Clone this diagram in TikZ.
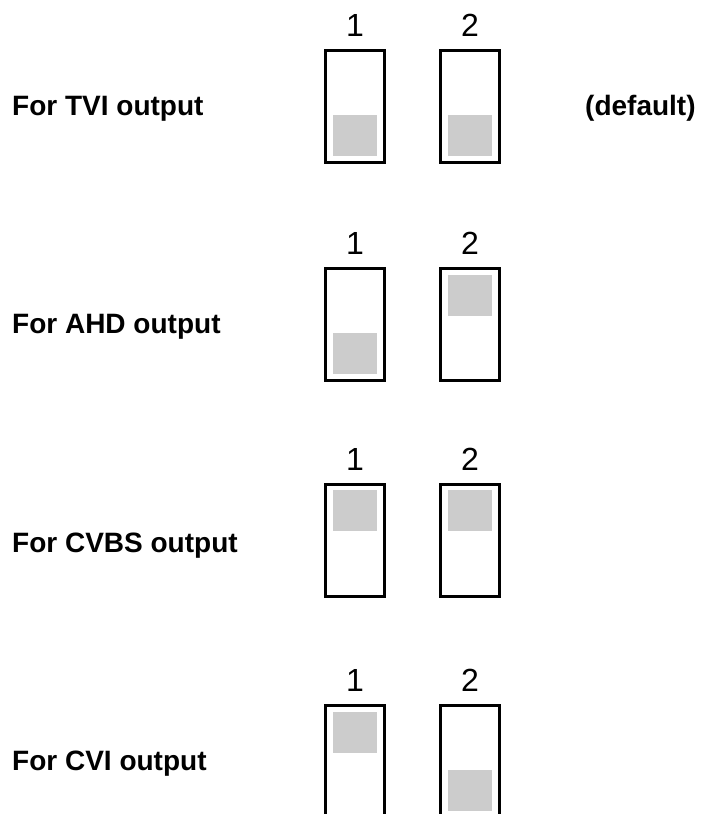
\documentclass[tikz,border=0pt]{standalone}
\usepackage{fontspec}
\setmainfont{Liberation Sans}
\usetikzlibrary{positioning}

\begin{document}
\begin{tikzpicture}[x=1pt,y=-1pt,
  switch/.style={draw,line width=3pt,minimum width=59pt,minimum height=112pt,inner sep=0pt},
  knob/.style={fill=black!20,minimum width=44pt,minimum height=41pt,inner sep=0pt},
  num/.style={inner sep=0pt,font=\fontsize{32}{34}\selectfont},
  lbl/.style={inner sep=0pt,anchor=base west,font=\bfseries\fontsize{28}{30}\selectfont}]
\clip (0,0) rectangle (705,814);

% TVI, both down
\node[lbl] (tvi) at (12,115) {For TVI output};
\node[lbl] (dflt) at (585,115) {(default)};
\node[switch] (a1) at (355,106.5) {};
\node[switch] (a2) at (470,106.5) {};
\node[num,above=12pt of a1] (a1n) {1};
\node[num,above=12pt of a2] (a2n) {2};
\node[knob,above=7.5pt of a1.south] (a1k) {};
\node[knob,above=7.5pt of a2.south] (a2k) {};

% AHD
\node[lbl] (ahd) at (12,333) {For AHD output};
\node[switch] (b1) at (355,324.5) {};
\node[switch] (b2) at (470,324.5) {};
\node[num,above=12pt of b1] (b1n) {1};
\node[num,above=12pt of b2] (b2n) {2};
\node[knob,above=7.5pt of b1.south] (b1k) {};
\node[knob,below=7.5pt of b2.north] (b2k) {};

% CVBS, both up
\node[lbl] (cvbs) at (12,552) {For CVBS output};
\node[switch] (c1) at (355,540) {};
\node[switch] (c2) at (470,540) {};
\node[num,above=12pt of c1] (c1n) {1};
\node[num,above=12pt of c2] (c2n) {2};
\node[knob,below=7.5pt of c1.north] (c1k) {};
\node[knob,below=7.5pt of c2.north] (c2k) {};

% CVI
\node[lbl] (cvi) at (12,770) {For CVI output};
\node[switch] (d1) at (355,761.5) {};
\node[switch] (d2) at (470,761.5) {};
\node[num,above=12pt of d1] (d1n) {1};
\node[num,above=12pt of d2] (d2n) {2};
\node[knob,below=7.5pt of d1.north] (d1k) {};
\node[knob,above=7.5pt of d2.south] (d2k) {};
\end{tikzpicture}
\end{document}
